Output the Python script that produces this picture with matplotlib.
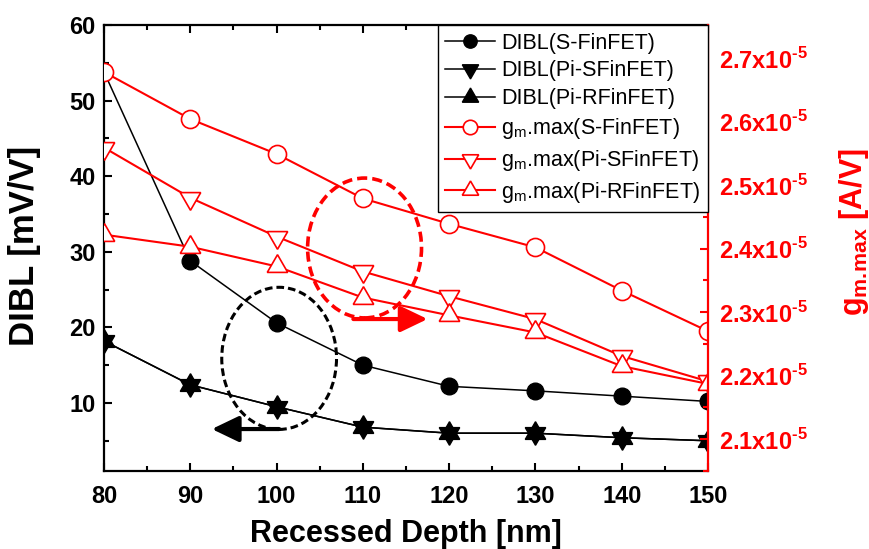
import matplotlib
matplotlib.use('Agg')
import matplotlib.pyplot as plt
from matplotlib.patches import Ellipse
from matplotlib.ticker import MultipleLocator, FuncFormatter

plt.rcParams['font.family'] = 'Liberation Sans'

depth = [80, 90, 100, 110, 120, 130, 140, 150]

# DIBL [mV/V]
dibl_s = [53.8, 28.8, 20.6, 15.0, 12.2, 11.6, 10.9, 10.2]
dibl_pis = [18.2, 12.4, 9.5, 6.8, 6.0, 6.0, 5.4, 5.0]
dibl_pir = [18.2, 12.4, 9.5, 6.8, 6.0, 6.0, 5.4, 5.0]

# gm.max [A/V]
gm_s = [v * 1e-5 for v in [2.678, 2.604, 2.549, 2.479, 2.439, 2.402, 2.334, 2.270]]
gm_pis = [v * 1e-5 for v in [2.559, 2.480, 2.419, 2.364, 2.325, 2.289, 2.231, 2.191]]
gm_pir = [v * 1e-5 for v in [2.422, 2.403, 2.372, 2.323, 2.295, 2.268, 2.215, 2.187]]

# равносторонние треугольники, центр в центре тяжести (вместе дают звезду)
tri_up = (3, 0, 0)
tri_down = (3, 0, 180)

fig = plt.figure(figsize=(8.7, 5.49), dpi=100)
ax = fig.add_axes([0.1195, 0.1421, 0.6943, 0.8124])
ax2 = ax.twinx()

# DIBL - черные
l1, = ax.plot(depth, dibl_s, '-o', color='k', lw=1.1, ms=12, label='DIBL(S-FinFET)')
l2, = ax.plot(depth, dibl_pis, '-', marker=tri_down, color='k', lw=1.1, ms=17, label='DIBL(Pi-SFinFET)')
l3, = ax.plot(depth, dibl_pir, '-', marker=tri_up, color='k', lw=1.1, ms=17, label='DIBL(Pi-RFinFET)')

# gm.max - красные, пустые маркеры
red = '#ff0000'
kw = dict(color=red, lw=1.5, mfc='white', mec=red, mew=1.2)
l4, = ax2.plot(depth, gm_s, '-o', ms=13, label='g$_\\mathregular{m}$.max(S-FinFET)', **kw)
l5, = ax2.plot(depth, gm_pis, '-', marker=tri_down, ms=17, label='g$_\\mathregular{m}$.max(Pi-SFinFET)', **kw)
l6, = ax2.plot(depth, gm_pir, '-', marker=tri_up, ms=17, label='g$_\\mathregular{m}$.max(Pi-RFinFET)', **kw)

# оси
ax.set_xlim(80, 150)
ax.set_ylim(1, 60)
ax2.set_ylim(2.05e-5, 2.752e-5)

ax.xaxis.set_major_locator(MultipleLocator(10))
ax.xaxis.set_minor_locator(MultipleLocator(5))
ax.yaxis.set_major_locator(MultipleLocator(10))
ax.yaxis.set_minor_locator(MultipleLocator(5))
ax2.yaxis.set_major_locator(MultipleLocator(0.1e-5))
ax2.yaxis.set_minor_locator(MultipleLocator(0.05e-5))
ax2.yaxis.set_major_formatter(FuncFormatter(lambda v, p: '%.1fx10$^{\\mathregular{\u20105}}$' % (v * 1e5)))

ax.tick_params(which='both', direction='in', top=True, width=1.5, labelsize=17)
ax.tick_params(which='major', length=6)
ax.tick_params(which='minor', length=3.5)
ax.tick_params(axis='x', pad=10)
ax.tick_params(axis='y', pad=6)
ax2.tick_params(which='both', direction='in', width=1.5, colors=red, labelsize=17, pad=8)
ax2.tick_params(which='major', length=6)
ax2.tick_params(which='minor', length=3.5)
for lab in ax.get_xticklabels() + ax.get_yticklabels() + ax2.get_yticklabels():
    lab.set_fontweight('bold')

for s in ['left', 'bottom', 'top']:
    ax.spines[s].set_linewidth(1.6)
ax.spines['right'].set_visible(False)
for s in ['left', 'bottom', 'top']:
    ax2.spines[s].set_visible(False)
ax2.spines['right'].set_color(red)
ax2.spines['right'].set_linewidth(1.6)

ax.set_xlabel('Recessed Depth [nm]', fontsize=22, fontweight='bold', va='baseline')
ax.xaxis.set_label_coords(0.5, -0.159)
ax.set_ylabel('DIBL [mV/V]', fontsize=25, fontweight='bold', va='center')
ax.yaxis.set_label_coords(-0.132, 0.504)
ax2.set_ylabel('g$_\\mathregular{m.\\!max}$ [A/V]', fontsize=22, fontweight='bold', color=red, va='center')
ax2.yaxis.set_label_coords(1.242, 0.536)

# эллипсы и стрелки
ax.add_patch(Ellipse((100.3, 15.9), 13.3, 18.8, fill=False, ec='k', lw=2.2, ls=(0, (2.5, 1.3))))
ax.add_patch(Ellipse((110.2, 30.5), 13.2, 18.5, fill=False, ec=red, lw=2.6, ls=(0, (2.8, 1.4))))
arrow = '-|>,head_length=0.75,head_width=0.36'
ax.annotate('', xy=(92.5, 6.55), xytext=(100.3, 6.55),
            arrowprops=dict(arrowstyle=arrow, color='k', lw=3, mutation_scale=22, shrinkA=0, shrinkB=0))
ax.annotate('', xy=(117.5, 21.1), xytext=(108.9, 21.1),
            arrowprops=dict(arrowstyle=arrow, color=red, lw=3, mutation_scale=22, shrinkA=0, shrinkB=0))

lines = [l1, l2, l3, l4, l5, l6]
leg = ax2.legend(lines, [l.get_label() for l in lines],
                 loc='upper right', borderaxespad=0, fontsize=15.5, handlelength=2.3,
                 handletextpad=0.3, labelspacing=0.32, borderpad=0.35, markerscale=0.8,
                 fancybox=False, framealpha=1, edgecolor='k')
leg.get_frame().set_linewidth(1.0)

fig.savefig('out.png', dpi=100)
